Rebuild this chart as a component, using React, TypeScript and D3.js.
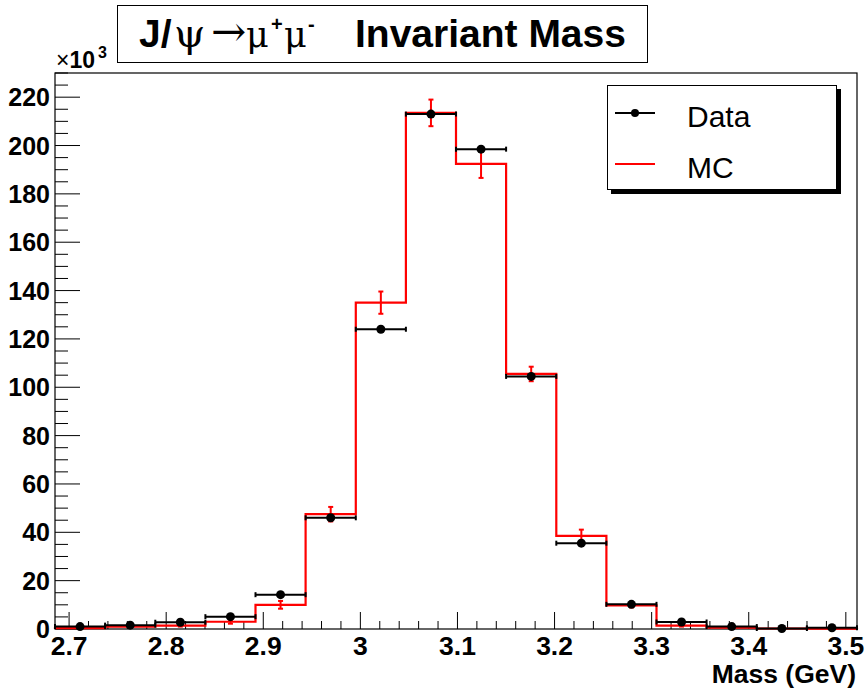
import React from "react";
import * as d3 from "d3";

// Bin edges (GeV) — 16 bins
const binEdges = [
  2.6855, 2.7371, 2.7888, 2.8404, 2.892, 2.9436, 2.9953, 3.0469, 3.0985,
  3.1501, 3.2018, 3.2534, 3.305, 3.3566, 3.4083, 3.4599, 3.5115,
];
// Data counts per bin
const dataCounts = [
  1000, 1600, 2800, 5100, 14200, 46000, 124000, 213000, 198500, 104500, 35500,
  10200, 2900, 1000, 200, 500,
];
// MC counts per bin
const mcCounts = [
  400, 1000, 1400, 3000, 10000, 47500, 135000, 213500, 192400, 105500, 38500,
  9800, 1400, 600, 200, 100,
];
// MC errors per bin
const mcErrors = [
  300, 400, 400, 800, 1600, 3000, 4600, 5500, 5800, 3000, 2600, 900, 400, 300,
  200, 100,
];
const yMajorTicks = [0, 20, 40, 60, 80, 100, 120, 140, 160, 180, 200, 220];
const xMajorTicks = [2.7, 2.8, 2.9, 3.0, 3.1, 3.2, 3.3, 3.4, 3.5];
const xTickLabels = ["2.7", "2.8", "2.9", "3", "3.1", "3.2", "3.3", "3.4", "3.5"];
const legendItems = ["Data", "MC"];

const W = 867;
const H = 688;
const FL = 55,
  FR = 857,
  FT = 73,
  FB = 629;

export default function App() {
  const x = d3.scaleLinear().domain([binEdges[0], binEdges[binEdges.length - 1]]).range([FL, FR]);
  const y = d3.scaleLinear().domain([0, 230000]).range([FB, FT]);

  const stepPts: [number, number][] = mcCounts.map((v, i) => [binEdges[i], v]);
  stepPts.push([binEdges[binEdges.length - 1], mcCounts[mcCounts.length - 1]]);
  const line = d3
    .line<[number, number]>()
    .x((d) => x(d[0]))
    .y((d) => y(d[1]))
    .curve(d3.curveStepAfter);
  const mcPath =
    `M${x(binEdges[0])},${y(0)}L` + (line(stepPts) as string).slice(1) + `L${x(binEdges[binEdges.length - 1])},${y(0)}`;

  const yMinor = d3.range(0, 230001, 5000);
  const xMinor = d3.range(2.7, 3.5115, 0.02).map((v) => +v.toFixed(3));

  const sans = "'Liberation Sans', Arial, Helvetica, sans-serif";
  const serif = "'DejaVu Serif', serif";
  const centers = mcCounts.map((_, i) => (binEdges[i] + binEdges[i + 1]) / 2);

  return (
    <svg
      width={W}
      height={H}
      style={{ position: "absolute", left: 0, top: 0, background: "#fff" }}
      fontFamily={sans}
    >
      <rect x={0} y={0} width={W} height={H} fill="#fff" />
      {/* Title box */}
      <rect x={117.5} y={5.5} width={530} height={57} fill="#fff" stroke="#000" strokeWidth={1} />
      <text x={139} y={47} fontSize={39} fontWeight="bold">J/</text>
      <text x={174} y={47} fontSize={40} fontFamily={serif} style={{ fontSize: "40px" }}>ψ</text>
      <text x={211} y={46} fontSize={42} fontFamily={serif} style={{ fontSize: "42px" }}>→</text>
      <text x={246} y={47} fontSize={35} fontFamily={serif} style={{ fontSize: "35px" }}>μ</text>
      <text x={271} y={31} fontSize={20} fontWeight="bold">+</text>
      <text x={284} y={47} fontSize={35} fontFamily={serif} style={{ fontSize: "35px" }}>μ</text>
      <text x={308} y={31} fontSize={20} fontWeight="bold">-</text>
      <text x={355} y={47} fontSize={39} fontWeight="bold">Invariant Mass</text>

      {/* ×10^3 */}
      <text x={56} y={68} fontSize={23} fontWeight="bold">
        <tspan fontWeight="normal">×</tspan>10
      </text>
      <text x={98} y={58} fontSize={16} fontWeight="bold">3</text>

      {/* frame */}
      <rect x={FL} y={FT} width={FR - FL} height={FB - FT} fill="none" stroke="#000" strokeWidth={1.2} />

      {/* Y ticks */}
      {yMinor.map((v) => {
        const major = v % 20000 === 0;
        return (
          <line key={"ym" + v} x1={FL} x2={FL + (major ? 25 : 13)} y1={y(v)} y2={y(v)} stroke="#000" strokeWidth={1} />
        );
      })}
      {yMajorTicks.map((t) => (
        <text key={"yl" + t} x={50} y={y(t * 1000)} dy="0.36em" textAnchor="end" fontSize={25} fontWeight="bold">
          {t}
        </text>
      ))}

      {/* X ticks */}
      {xMinor.map((v) => {
        const major = xMajorTicks.some((m) => Math.abs(m - v) < 1e-6);
        return (
          <line key={"xm" + v} x1={x(v)} x2={x(v)} y1={FB} y2={FB - (major ? 17 : 8)} stroke="#000" strokeWidth={1} />
        );
      })}
      {xMajorTicks.map((t, i) => (
        <text key={"xl" + t} x={x(t)} y={655} textAnchor="middle" fontSize={26.5} fontWeight="bold">
          {xTickLabels[i]}
        </text>
      ))}
      <text x={FR - 1} y={683} textAnchor="end" fontSize={26.5} fontWeight="bold">
        Mass (GeV)
      </text>

      {/* MC histogram */}
      <path d={mcPath} fill="none" stroke="#ff0000" strokeWidth={2.2} />
      {mcCounts.map((v, i) => {
        const cx = x(centers[i]);
        const e = mcErrors[i];
        return (
          <g key={"mce" + i} stroke="#ff0000" strokeWidth={2}>
            <line x1={cx} x2={cx} y1={y(v - e)} y2={y(v + e)} />
            <line x1={cx - 2.5} x2={cx + 2.5} y1={y(v - e)} y2={y(v - e)} />
            <line x1={cx - 2.5} x2={cx + 2.5} y1={y(v + e)} y2={y(v + e)} />
          </g>
        );
      })}

      {/* Data points */}
      {dataCounts.map((v, i) => {
        const x0 = x(binEdges[i]);
        const x1 = x(binEdges[i + 1]);
        const cy = y(v);
        return (
          <g key={"d" + i} stroke="#000" strokeWidth={2}>
            <line x1={x0} x2={x1} y1={cy} y2={cy} />
            <line x1={x0} x2={x0} y1={cy - 2.5} y2={cy + 2.5} />
            <line x1={x1} x2={x1} y1={cy - 2.5} y2={cy + 2.5} />
            <circle cx={x(centers[i])} cy={cy} r={4.5} fill="#000" stroke="none" />
          </g>
        );
      })}

      {/* Legend */}
      <rect x={611} y={89} width={230} height={105} fill="#000" />
      <rect x={607.5} y={85.5} width={229} height={104} fill="#fff" stroke="#000" strokeWidth={1} />
      {legendItems.map((name, i) => {
        const ly = 113 + i * 51;
        const color = i === 0 ? "#000" : "#ff0000";
        return (
          <g key={name}>
            <line x1={615} x2={655} y1={ly} y2={ly} stroke={color} strokeWidth={2} />
            {i === 0 && <circle cx={635} cy={ly} r={4} fill="#000" />}
            <text x={687} y={ly + 14} fontSize={30}>
              {name}
            </text>
          </g>
        );
      })}
    </svg>
  );
}
